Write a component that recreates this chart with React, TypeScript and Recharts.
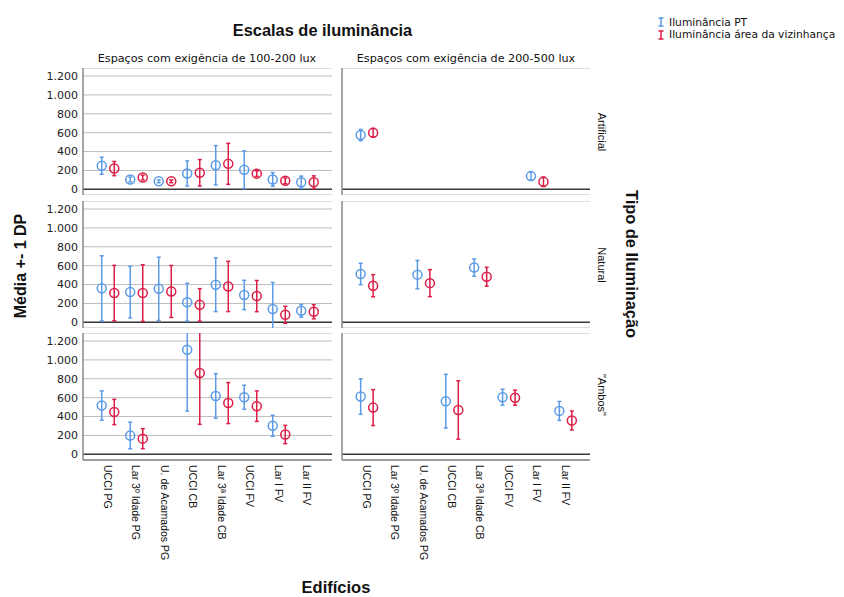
import React from 'react';
import {
  ScatterChart, Scatter, XAxis, YAxis, CartesianGrid, ErrorBar, ReferenceLine, Legend,
} from 'recharts';

// ---------- data ----------
const categories = [
  'UCCI PG', 'Lar 3º Idade PG', 'U. de Acamados PG', 'UCCI CB',
  'Lar 3ª Idade CB', 'UCCI FV', 'Lar I FV', 'Lar II FV',
];
const seriesNames = ['Iluminância PT', 'Iluminância área da vizinhança'];
const colLabels = ['Espaços com exigência de 100-200 lux', 'Espaços com exigência de 200-500 lux'];
const rowLabels = ['Artificial', 'Natural', '"Ambos"'];
const yTicks = [0, 200, 400, 600, 800, 1000, 1200];

// Artificial, 100-200 lux
const art100PtMean = [250, 105, 85, 168, 255, 207, 105, 75];
const art100PtSd = [90, 25, 15, 133, 208, 200, 72, 65];
const art100VzMean = [220, 125, 85, 175, 270, 166, 90, 75];
const art100VzSd = [75, 25, 15, 140, 217, 30, 30, 68];
// Artificial, 200-500 lux
const art200PtMean = [575, null, null, null, null, null, 140, null];
const art200PtSd = [60, null, null, null, null, null, 45, null];
const art200VzMean = [600, null, null, null, null, null, 80, null];
const art200VzSd = [45, null, null, null, null, null, 50, null];
// Natural, 100-200 lux
const nat100PtMean = [360, 320, 355, 213, 398, 290, 142, 122];
const nat100PtSd = [345, 273, 335, 200, 284, 155, 280, 68];
const nat100VzMean = [310, 310, 327, 185, 380, 278, 80, 112];
const nat100VzSd = [293, 300, 275, 172, 266, 165, 90, 75];
// Natural, 200-500 lux
const nat200PtMean = [512, null, 505, null, 580, null, null, null];
const nat200PtSd = [113, null, 150, null, 92, null, null, null];
const nat200VzMean = [388, null, 415, null, 483, null, null, null];
const nat200VzSd = [117, null, 143, null, 100, null, null, null];
// Ambos, 100-200 lux
const amb100PtMean = [517, 200, null, 1108, 618, 605, 302, null];
const amb100PtSd = [155, 141, null, 649, 236, 127, 111, null];
const amb100VzMean = [448, 166, null, 861, 543, 510, 210, null];
const amb100VzSd = [134, 106, null, 543, 217, 161, 97, null];
// Ambos, 200-500 lux
const amb200PtMean = [612, null, null, 563, null, 605, null, 460];
const amb200PtSd = [188, null, null, 284, null, 85, null, 100];
const amb200VzMean = [495, null, null, 470, null, 600, null, 358];
const amb200VzSd = [190, null, null, 309, null, 80, null, 100];

// ---------- style ----------
const BLUE = '#5b9be6';
const RED = '#dc1e46';
const FONT = '"Liberation Sans", Arial, sans-serif';
const WIDE = '"DejaVu Sans", Verdana, sans-serif';
const Y_DOMAIN = [-60, 1285];
const X_DOMAIN = [-0.877, 7.86];
const OFFSET = 0.22;

const fmt = (v: number) =>
  v >= 1000 ? `${Math.floor(v / 1000)}.${String(v % 1000).padStart(3, '0')}` : String(v);

const build = (means: (number | null)[], sds: (number | null)[], shift: number) =>
  means
    .map((m, i) => (m == null ? null : { x: i + shift, y: m, sd: sds[i] }))
    .filter(Boolean) as { x: number; y: number; sd: number }[];

const XTick = (props: any) => {
  const { x, y, payload } = props;
  return (
    <text
      x={x}
      y={y}
      transform={`rotate(90 ${x} ${y})`}
      textAnchor="start"
      dominantBaseline="central"
      fontSize={10.5}
      fontFamily={FONT}
      fill="#111"
    >
      {categories[payload.value]}
    </text>
  );
};

const circleShape = (color: string) => (p: any) => (
  <circle cx={p.cx} cy={p.cy} r={4.5} fill="none" stroke={color} strokeWidth={1.5} />
);

type PanelProps = {
  left: number; top: number; plotW: number; plotH: number; yW: number;
  showY: boolean; showX: boolean;
  ptMean: (number | null)[]; ptSd: (number | null)[];
  vzMean: (number | null)[]; vzSd: (number | null)[];
};

const Panel = ({ left, top, plotW, plotH, yW, showY, showX, ptMean, ptSd, vzMean, vzSd }: PanelProps) => {
  const xH = showX ? 130 : 0;
  return (
    <div style={{ position: 'absolute', left, top }}>
      <ScatterChart width={yW + plotW} height={plotH + xH} margin={{ top: 0, right: 0, bottom: 0, left: 0 }}>
        <CartesianGrid horizontal vertical={false} stroke="#bdbdbd" />
        <XAxis
          type="number"
          dataKey="x"
          domain={X_DOMAIN}
          ticks={[0, 1, 2, 3, 4, 5, 6, 7]}
          allowDataOverflow
          height={xH}
          axisLine={{ stroke: '#8a8a8a', strokeWidth: 1.5 }}
          tickLine={false}
          tickSize={3}
          tickMargin={2}
          tick={showX ? <XTick /> : false}
          interval={0}
        />
        <YAxis
          type="number"
          dataKey="y"
          domain={Y_DOMAIN}
          ticks={yTicks}
          allowDataOverflow
          width={yW}
          axisLine={{ stroke: '#8a8a8a', strokeWidth: 1.5 }}
          tickLine={false}
          tickSize={0}
          tickMargin={5}
          tick={showY ? { fontSize: 11, fill: '#222', fontFamily: WIDE } : false}
          tickFormatter={fmt}
          interval={0}
        />
        <ReferenceLine y={0} stroke="#3a3a3a" strokeWidth={1.5} />
        <Scatter
          name={seriesNames[0]}
          data={build(ptMean, ptSd, -OFFSET)}
          fill={BLUE}
          shape={circleShape(BLUE)}
          isAnimationActive={false}
        >
          <ErrorBar dataKey="sd" direction="y" width={2} stroke={BLUE} strokeWidth={1.5} isAnimationActive={false} />
        </Scatter>
        <Scatter
          name={seriesNames[1]}
          data={build(vzMean, vzSd, OFFSET)}
          fill={RED}
          shape={circleShape(RED)}
          isAnimationActive={false}
        >
          <ErrorBar dataKey="sd" direction="y" width={2} stroke={RED} strokeWidth={1.5} isAnimationActive={false} />
        </Scatter>
      </ScatterChart>
    </div>
  );
};

const LegendContent = (props: any) => {
  const { payload } = props;
  return (
    <div style={{ fontFamily: WIDE, fontSize: 10.7, color: '#111' }}>
      {(payload || []).map((e: any) => (
        <div key={e.value} style={{ display: 'flex', alignItems: 'center', height: 12.6, whiteSpace: 'nowrap' }}>
          <svg width={9} height={10} style={{ marginRight: 3 }}>
            <path d="M1.5 1H6.5M4 1V9M1.5 9H6.5" stroke={e.color} strokeWidth={1.5} fill="none" />
          </svg>
          <span>{e.value}</span>
        </div>
      ))}
    </div>
  );
};

const LegendChart = () => (
  <div style={{ position: 'absolute', left: 657, top: 16 }}>
    <ScatterChart width={187} height={30} margin={{ top: 0, right: 0, bottom: 0, left: 0 }}>
      <XAxis type="number" dataKey="x" hide />
      <YAxis type="number" dataKey="y" hide />
      <Scatter name={seriesNames[0]} data={[]} fill={BLUE} isAnimationActive={false} />
      <Scatter name={seriesNames[1]} data={[]} fill={RED} isAnimationActive={false} />
      <Legend
        content={<LegendContent />}
        wrapperStyle={{ position: 'absolute', left: 0, top: 0, width: 'auto' }}
      />
    </ScatterChart>
  </div>
);

const LEFT_X = 83;
const RIGHT_X = 342;
const PLOT_W = 249;
const PLOT_H = 127;
const ROW_TOPS = [68, 200.7, 333.3];
const LEFT_YW = 45;
const RIGHT_YW = 6;

const panels = [
  [art100PtMean, art100PtSd, art100VzMean, art100VzSd, art200PtMean, art200PtSd, art200VzMean, art200VzSd],
  [nat100PtMean, nat100PtSd, nat100VzMean, nat100VzSd, nat200PtMean, nat200PtSd, nat200VzMean, nat200VzSd],
  [amb100PtMean, amb100PtSd, amb100VzMean, amb100VzSd, amb200PtMean, amb200PtSd, amb200VzMean, amb200VzSd],
];

export default function App() {
  return (
    <div style={{ position: 'absolute', left: 0, top: 0, width: 844, height: 597, background: '#fff', fontFamily: FONT }}>
      {panels.map((p, r) => (
        <React.Fragment key={r}>
          <Panel
            left={LEFT_X - LEFT_YW}
            top={ROW_TOPS[r]}
            plotW={PLOT_W}
            plotH={PLOT_H}
            yW={LEFT_YW}
            showY
            showX={r === 2}
            ptMean={p[0]} ptSd={p[1]} vzMean={p[2]} vzSd={p[3]}
          />
          <Panel
            left={RIGHT_X - RIGHT_YW}
            top={ROW_TOPS[r]}
            plotW={PLOT_W - 1}
            plotH={PLOT_H}
            yW={RIGHT_YW}
            showY={false}
            showX={r === 2}
            ptMean={p[4]} ptSd={p[5]} vzMean={p[6]} vzSd={p[7]}
          />
        </React.Fragment>
      ))}
      <LegendChart />
      <svg width={844} height={597} style={{ position: 'absolute', left: 0, top: 0, pointerEvents: 'none' }}>
        <text x={322.5} y={30} textAnchor="middle" dominantBaseline="central" fontSize={16.4} fontWeight="bold" fontFamily={FONT} fill="#111">
          Escalas de iluminância
        </text>
        <text x={207} y={58} textAnchor="middle" dominantBaseline="central" fontSize={11.2} fontFamily={WIDE} fill="#111">
          {colLabels[0]}
        </text>
        <text x={466} y={58} textAnchor="middle" dominantBaseline="central" fontSize={11.2} fontFamily={WIDE} fill="#111">
          {colLabels[1]}
        </text>
        {[132, 265, 395].map((cy, i) => (
          <text key={i} x={601.5} y={cy} transform={`rotate(90 601.5 ${cy})`} textAnchor="middle" dominantBaseline="central" fontSize={11} fontFamily={FONT} fill="#111">
            {rowLabels[i]}
          </text>
        ))}
        <text x={632} y={264} transform="rotate(90 632 264)" textAnchor="middle" dominantBaseline="central" fontSize={16.4} fontWeight="bold" fontFamily={FONT} fill="#111">
          Tipo de Iluminação
        </text>
        <text x={20} y={266} transform="rotate(-90 20 266)" textAnchor="middle" dominantBaseline="central" fontSize={16} fontWeight="bold" fontFamily={FONT} fill="#111">
          Média +- 1 DP
        </text>
        <text x={336} y={587} textAnchor="middle" dominantBaseline="central" fontSize={16.5} fontWeight="bold" fontFamily={FONT} fill="#111">
          Edifícios
        </text>
      </svg>
    </div>
  );
}
